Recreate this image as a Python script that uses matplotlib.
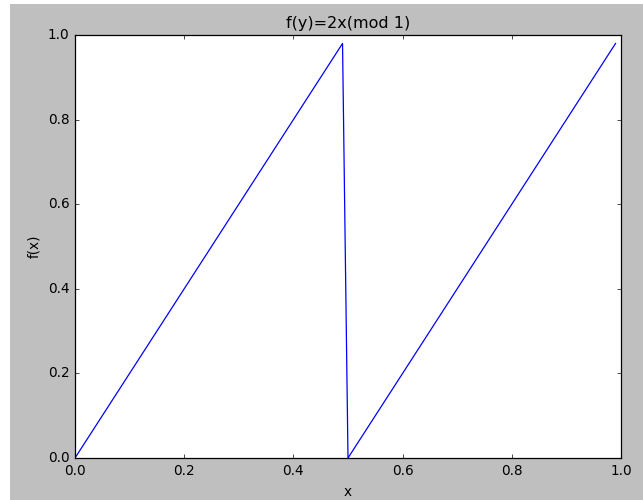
import matplotlib
matplotlib.use("Agg")
import matplotlib.pyplot as plt
from matplotlib.patches import Rectangle

# Breakpoints of the doubling map sampled on a 0.01 grid
x_vals = [0.0, 0.49, 0.50, 0.99]
y_vals = [0.0, 0.98, 0.0, 0.98]

plt.style.use("classic")
plt.rcParams.update({
    "font.size": 9.8,
    "axes.titlesize": 11.5,
    "axes.labelsize": 9.8,
    "xtick.labelsize": 9.8,
    "ytick.labelsize": 9.8,
    "xtick.major.size": 3.2,
    "ytick.major.size": 3.2,
    "axes.linewidth": 0.9,
})

fig = plt.figure(figsize=(6.43, 5.0), dpi=100)
fig.patch.set_facecolor("white")
fig.patches.append(Rectangle((10 / 643, 0), 1 - 10 / 643, 496 / 500,
                             transform=fig.transFigure, facecolor="#bfbfbf",
                             edgecolor="none", zorder=-10))

ax = fig.add_axes([75 / 643, 1 - 458 / 500, (621 - 75) / 643, (458 - 35) / 500])
ax.plot(x_vals, y_vals, color="b", linewidth=0.9)
ax.set_xlim(0, 1)
ax.set_ylim(0, 1)
ax.set_title("f(y)=2x(mod 1)")
ax.set_xlabel("x")
ax.set_ylabel("f(x)")

fig.savefig("out.png", dpi=100, facecolor=fig.get_facecolor())
